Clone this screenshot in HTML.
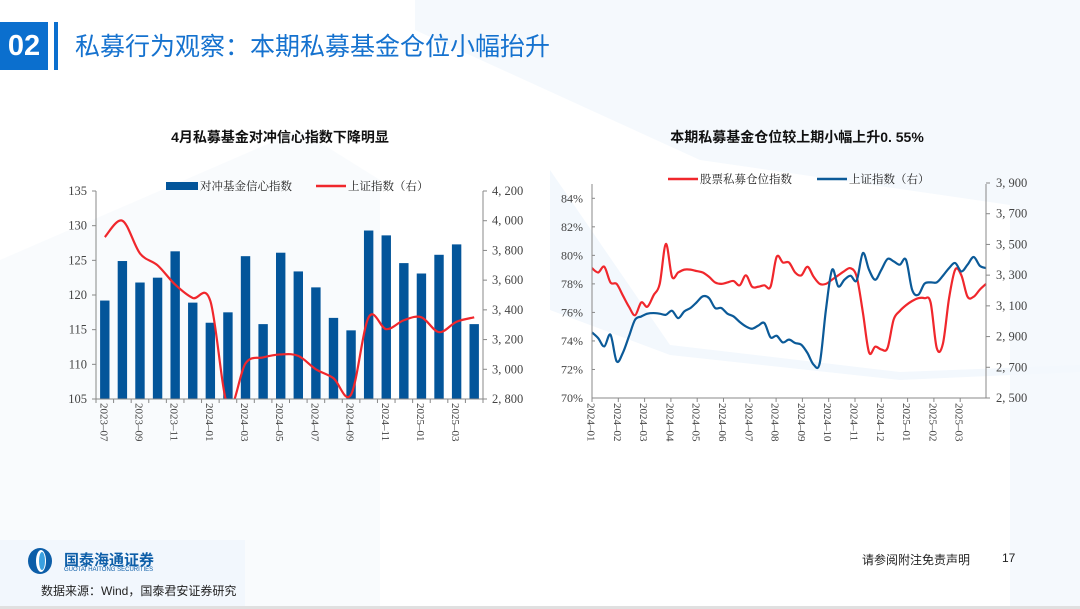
<!DOCTYPE html>
<html><head><meta charset="utf-8">
<style>
body{margin:0;width:1080px;height:609px;overflow:hidden;background:#fff;font-family:"Liberation Sans","Noto Sans CJK SC",sans-serif;position:relative}
.abs{position:absolute}
</style></head>
<body>
<svg class="abs" style="left:0;top:0" width="1080" height="609">
<polygon points="415,0 1080,0 1080,609 1010,609 1010,0 415,0" fill="#f5f9fd"/>
<polygon points="415,0 1010,0 1010,205 700,160 415,30" fill="#f5f9fd"/>
<polygon points="0,260 300,130 380,180 380,609 0,609" fill="#f7fafd" opacity="0.8"/>
<polygon points="550,170 670,345 900,372 1080,365 1080,372 900,380 670,355 550,310" fill="#f3f8fd"/>
<rect x="0" y="540" width="245" height="69" fill="#f2f7fd"/>
<rect x="0" y="606" width="1080" height="3" fill="#e0e0e0"/>
</svg>

<div class="abs" style="left:0;top:22px;width:48px;height:48px;background:#0b6fce;color:#fff;font-weight:bold;font-size:29px;line-height:48px;text-align:center">02</div>
<div class="abs" style="left:54px;top:22px;width:4px;height:48px;background:#0b6fce"></div>
<div class="abs" style="left:75px;top:31px;font-size:25px;color:#1572cf;line-height:32px">私募行为观察：本期私募基金仓位小幅抬升</div>

<div class="abs" style="left:80px;width:400px;top:127px;text-align:center;font-size:14px;font-weight:bold;color:#111">4月私募基金对冲信心指数下降明显</div>
<div class="abs" style="left:597px;width:400px;top:127px;text-align:center;font-size:14px;font-weight:bold;color:#111">本期私募基金仓位较上期小幅上升0. 55%</div>

<svg id="c1" class="abs" style="left:0;top:0" width="540" height="470" font-family="'Liberation Serif','Noto Serif CJK SC',serif"></svg>
<svg id="c2" class="abs" style="left:540px;top:0" width="540" height="470" font-family="'Liberation Serif','Noto Serif CJK SC',serif"></svg>

<svg class="abs" style="left:26px;top:547px" width="30" height="28">
<ellipse cx="14" cy="14" rx="12" ry="13" fill="#0d5ea8"/><ellipse cx="15" cy="14" rx="5" ry="11" fill="#fff"/><ellipse cx="16" cy="14" rx="3" ry="9" fill="#3aa0e0"/></svg>
<div class="abs" style="left:64px;top:549px;font-size:15px;font-weight:bold;color:#0d5ea8">国泰海通证券</div>
<div class="abs" style="left:64px;top:567px;font-size:6px;color:#0d5ea8">GUOTAI HAITONG SECURITIES</div>
<div class="abs" style="left:41px;top:582px;font-size:12px;color:#222">数据来源：Wind，国泰君安证券研究</div>
<div class="abs" style="left:862px;top:551px;font-size:12px;color:#222">请参阅附注免责声明</div>
<div class="abs" style="left:1002px;top:551px;font-size:12px;color:#222">17</div>

<script>
// ---- chart 1 data ----
const months1 = ["2023-07","2023-08","2023-09","2023-10","2023-11","2023-12","2024-01","2024-02","2024-03","2024-04","2024-05","2024-06","2024-07","2024-08","2024-09","2024-10","2024-11","2024-12","2025-01","2025-02","2025-03","2025-04"];
const confidence = [119.2,124.9,121.8,122.5,126.3,118.9,116.0,117.5,125.6,115.8,126.1,123.4,121.1,116.7,114.9,129.3,128.6,124.6,123.1,125.8,127.3,115.8];
const shIndex1 = [3890,4000,3780,3700,3570,3480,3460,2750,3040,3080,3100,3090,3000,2940,2830,3350,3270,3330,3350,3250,3320,3350];
const leftTicks1 = [105,110,115,120,125,130,135];
const rightTicks1 = [2800,3000,3200,3400,3600,3800,4000,4200];

// ---- chart 2 data (weekly) ----
const xMonths2 = ["2024-01","2024-02","2024-03","2024-04","2024-05","2024-06","2024-07","2024-08","2024-09","2024-10","2024-11","2024-12","2025-01","2025-02","2025-03"];
const position = [79.1,78.8,79.2,78.1,78.0,77.2,76.4,75.8,76.7,76.4,77.2,78.0,80.8,78.5,78.8,79.0,79.0,78.9,78.8,78.5,78.1,78.0,78.1,78.2,77.9,78.6,77.8,77.8,77.9,77.8,79.9,79.5,79.5,78.8,78.6,79.2,78.5,78.0,78.0,78.3,78.6,78.9,79.1,78.5,76.0,73.2,73.6,73.4,73.5,75.5,76.1,76.5,76.8,77.0,77.0,76.7,73.5,73.8,77.0,79.0,78.6,77.1,77.1,77.6,78.0];
const shIndex2 = [2927,2890,2836,2912,2739,2793,2901,3010,3031,3049,3053,3049,3042,3068,3020,3064,3086,3123,3162,3151,3086,3086,3049,3031,2995,2966,2951,2971,2988,2895,2905,2862,2880,2858,2847,2793,2717,2728,3075,3335,3227,3270,3296,3266,3444,3335,3270,3335,3405,3390,3368,3400,3205,3172,3244,3253,3253,3296,3346,3379,3324,3368,3418,3361,3346];
const leftTicks2 = [70,72,74,76,78,80,82,84];
const rightTicks2 = [2500,2700,2900,3100,3300,3500,3700,3900];

const NS="http://www.w3.org/2000/svg";
function mk(p,tag,attrs){const e=document.createElementNS(NS,tag);for(const k in attrs)e.setAttribute(k,attrs[k]);p.appendChild(e);return e;}
function smooth(pts){let d="M"+pts[0][0]+","+pts[0][1];for(let i=0;i<pts.length-1;i++){const p0=pts[i-1]||pts[i],p1=pts[i],p2=pts[i+1],p3=pts[i+2]||p2;d+=" C"+(p1[0]+(p2[0]-p0[0])/6)+","+(p1[1]+(p2[1]-p0[1])/6)+" "+(p2[0]-(p3[0]-p1[0])/6)+","+(p2[1]-(p3[1]-p1[1])/6)+" "+p2[0]+","+p2[1];}return d;}
function fmt(v){return String(v).replace(/(\d)(\d{3})$/,"$1, $2");}

// chart 1
(function(){
const s=document.getElementById('c1');
const L=96,R=483,T=191,B=399;
const yL=v=>B-(v-105)/30*(B-T);
const yR=v=>B-(v-2800)/1400*(B-T);
const step=(R-L)/months1.length;
const xc=i=>L+step*(i+0.5);
mk(s,'clipPath',{id:'clip1'}).appendChild(document.createElementNS(NS,'rect'));
const cr=s.querySelector('#clip1 rect');cr.setAttribute('x',L);cr.setAttribute('y',T-20);cr.setAttribute('width',R-L);cr.setAttribute('height',B-T+20);
confidence.forEach((v,i)=>{const r=mk(s,'rect',{x:xc(i)-4.7,y:yL(v),width:9.4,height:B-yL(v),fill:'#03559a'});

});
const ln=mk(s,'path',{d:smooth(shIndex1.map((v,i)=>[xc(i),yR(v)])),fill:'none',stroke:'#f0272c','stroke-width':2.2,'clip-path':'url(#clip1)'});


mk(s,'line',{x1:L,y1:T,x2:L,y2:B,stroke:'#888'});
mk(s,'line',{x1:L,y1:B,x2:R,y2:B,stroke:'#888'});
mk(s,'line',{x1:R,y1:T,x2:R,y2:B,stroke:'#888'});
leftTicks1.forEach(t=>{mk(s,'line',{x1:L-4,y1:yL(t),x2:L,y2:yL(t),stroke:'#888'});const e=mk(s,'text',{x:L-9,y:yL(t)+4,'text-anchor':'end','font-size':12.5,fill:'#444'});e.textContent=t;

});
rightTicks1.forEach(t=>{mk(s,'line',{x1:R,y1:yR(t),x2:R+4,y2:yR(t),stroke:'#888'});const e=mk(s,'text',{x:R+9,y:yR(t)+4,'font-size':12.5,fill:'#444'});e.textContent=fmt(t);

});
for(let i=0;i<=months1.length;i++)mk(s,'line',{x1:L+step*i,y1:B,x2:L+step*i,y2:B+4,stroke:'#888'});
months1.forEach((m,i)=>{if(i%2)return;const e=mk(s,'text',{transform:`translate(${xc(i)-4.5},${B+4}) rotate(90)`,'font-size':11,fill:'#444'});e.textContent=m.replace('-','–');

});
mk(s,'rect',{x:166,y:182,width:32,height:8,fill:'#03559a'});
const t1=mk(s,'text',{x:200,y:190,'font-size':11.5,fill:'#222'});t1.textContent='对冲基金信心指数';


mk(s,'line',{x1:316,y1:186,x2:346,y2:186,stroke:'#f0272c','stroke-width':2.5});
const t2=mk(s,'text',{x:348,y:190,'font-size':11.5,fill:'#222'});t2.textContent='上证指数（右）';


})();

// chart 2 (offset 540)
(function(){
const s=document.getElementById('c2');
const L=592-540,R=986-540,T=184,B=398;
const yL=v=>B-(v-70)/14*(398-198.3);
const yR=v=>B-(v-2500)/1400*(398-183);
const n=position.length;
const xw=i=>L+i*(R-L)/(n-1);
const p1=mk(s,'path',{d:smooth(position.map((v,i)=>[xw(i),yL(v)])),fill:'none',stroke:'#f0272c','stroke-width':2.2});


const p2=mk(s,'path',{d:smooth(shIndex2.map((v,i)=>[xw(i),yR(v)])),fill:'none',stroke:'#0b5a98','stroke-width':2.2});


mk(s,'line',{x1:L,y1:T,x2:L,y2:B,stroke:'#888'});
mk(s,'line',{x1:L,y1:B,x2:R,y2:B,stroke:'#888'});
mk(s,'line',{x1:R,y1:T,x2:R,y2:B,stroke:'#888'});
leftTicks2.forEach(t=>{mk(s,'line',{x1:L,y1:yL(t),x2:L+3,y2:yL(t),stroke:'#888'});const e=mk(s,'text',{x:L-9,y:yL(t)+4,'text-anchor':'end','font-size':12,fill:'#444'});e.textContent=t+'%';

});
rightTicks2.forEach(t=>{mk(s,'line',{x1:R,y1:yR(t),x2:R+4,y2:yR(t),stroke:'#888'});const e=mk(s,'text',{x:R+10,y:yR(t)+4,'font-size':12.5,fill:'#444'});e.textContent=fmt(t);

});
xMonths2.forEach((m,i)=>{const x=L+i*26.3;mk(s,'line',{x1:x,y1:B,x2:x,y2:B+4,stroke:'#888'});const e=mk(s,'text',{transform:`translate(${x-4.5},${B+5}) rotate(90)`,'font-size':11,fill:'#444'});e.textContent=m.replace('-','–');

});
mk(s,'line',{x1:128,y1:179,x2:158,y2:179,stroke:'#f0272c','stroke-width':2.5});
const t1=mk(s,'text',{x:160,y:183,'font-size':11.5,fill:'#222'});t1.textContent='股票私募仓位指数';


mk(s,'line',{x1:277,y1:179,x2:307,y2:179,stroke:'#0b5a98','stroke-width':2.5});
const t2=mk(s,'text',{x:309,y:183,'font-size':11.5,fill:'#222'});t2.textContent='上证指数（右）';


})();
</script>
</body></html>
